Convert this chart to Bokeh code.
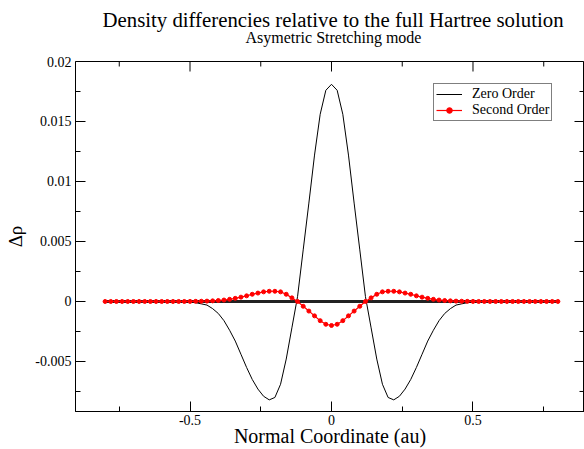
import math
from bokeh.plotting import figure
from bokeh.models import (Range1d, FixedTicker, LinearAxis, Title, Legend, LegendItem)
from bokeh.embed import file_html
from bokeh.resources import INLINE

# ---------------- data ----------------
x_coord = [-0.80, -0.78, -0.76, -0.74, -0.72, -0.70, -0.68, -0.66, -0.64, -0.62,
           -0.60, -0.58, -0.56, -0.54, -0.52, -0.50, -0.48, -0.46, -0.44, -0.42,
           -0.40, -0.38, -0.36, -0.34, -0.32, -0.30, -0.28, -0.26, -0.24, -0.22,
           -0.20, -0.18, -0.16, -0.14, -0.12, -0.10, -0.08, -0.06, -0.04, -0.02,
           0.00,
           0.02, 0.04, 0.06, 0.08, 0.10, 0.12, 0.14, 0.16, 0.18, 0.20,
           0.22, 0.24, 0.26, 0.28, 0.30, 0.32, 0.34, 0.36, 0.38, 0.40,
           0.42, 0.44, 0.46, 0.48, 0.50, 0.52, 0.54, 0.56, 0.58, 0.60,
           0.62, 0.64, 0.66, 0.68, 0.70, 0.72, 0.74, 0.76, 0.78, 0.80]

zero_order = [0, 0, 0, 0, 0, 0, 0, 0, 0, 0,
              0, 0, 0, 0, -0.00002, -0.00004, -0.0001, -0.0002, -0.0003, -0.0006,
              -0.0010, -0.0016, -0.0024, -0.0033, -0.0044, -0.0055, -0.0065, -0.0073, -0.0079, -0.0082,
              -0.0080, -0.0069, -0.0048, -0.0022, 0.0004, 0.0043, 0.0082, 0.0122, 0.0156, 0.0176,
              0.0181,
              0.0176, 0.0156, 0.0122, 0.0082, 0.0043, 0.0004, -0.0022, -0.0048, -0.0069, -0.0080,
              -0.0082, -0.0079, -0.0073, -0.0065, -0.0055, -0.0044, -0.0033, -0.0024, -0.0016, -0.0010,
              -0.0006, -0.0003, -0.0002, -0.0001, -0.00004, -0.00002, 0, 0, 0, 0,
              0, 0, 0, 0, 0, 0, 0, 0, 0, 0]

second_order = [0, 0, 0, 0, 0, 0, 0, 0, 0, 0,
                0, 0, 0, 0, 0, 0.000005, 0.00001, 0.00002, 0.00003, 0.00005,
                0.00008, 0.00012, 0.00018, 0.00026, 0.00036, 0.00047, 0.0006, 0.0007, 0.0008, 0.00085,
                0.00085, 0.0008, 0.0006, 0.0003, 0.0000, -0.0004, -0.0008, -0.0012, -0.0016, -0.0019,
                -0.0020,
                -0.0019, -0.0016, -0.0012, -0.0008, -0.0004, 0.0000, 0.0003, 0.0006, 0.0008, 0.00085,
                0.00085, 0.0008, 0.0007, 0.0006, 0.00047, 0.00036, 0.00026, 0.00018, 0.00012, 0.00008,
                0.00005, 0.00003, 0.00002, 0.00001, 0.000005, 0, 0, 0, 0, 0,
                0, 0, 0, 0, 0, 0, 0, 0, 0, 0]

baseline = [0.0] * len(x_coord)

x_ticks = [-0.5, 0.0, 0.5]
x_tick_labels = ["-0.5", "0", "0.5"]
x_minor = [-0.75, -0.25, 0.25, 0.75]
y_ticks = [-0.005, 0.0, 0.005, 0.01, 0.015, 0.02]
y_tick_labels = ["-0.005", "0", "0.005", "0.01", "0.015", "0.02"]
y_minor = [-0.0075, -0.0025, 0.0025, 0.0075, 0.0125, 0.0175]

title_text = "Density differencies relative to the full Hartree solution"
subtitle_text = "Asymetric Stretching mode"
x_label = "Normal Coordinate (au)"
y_label = "Δρ"
series_names = ["Zero Order", "Second Order"]

FONT = "Liberation Serif"
X0, X1 = -0.9046, 0.894
Y0, Y1 = -0.00917, 0.02

# ---------------- figure ----------------
p = figure(width=584, height=449, output_backend="svg", toolbar_location=None,
           title=None,
           x_range=Range1d(X0, X1), y_range=Range1d(Y0, Y1),
           min_border_left=75, min_border_right=0, min_border_top=61,
           min_border_bottom=38)
p.background_fill_color = "white"
p.border_fill_color = "white"
p.outline_line_color = "black"
p.outline_line_width = 1
p.grid.visible = False


def style_axis(ax):
    ax.axis_line_color = "black"
    ax.axis_line_width = 1
    ax.major_tick_line_color = "black"
    ax.minor_tick_line_color = "black"
    ax.major_tick_in = 10
    ax.major_tick_out = 0
    ax.minor_tick_in = 5
    ax.minor_tick_out = 0
    ax.major_label_text_font = FONT
    ax.major_label_text_font_size = "14px"
    ax.major_label_text_color = "black"
    ax.axis_label_text_font = FONT
    ax.axis_label_text_font_style = "normal"
    ax.axis_label_text_color = "black"


xa = p.xaxis[0]
xa.ticker = FixedTicker(ticks=x_ticks, minor_ticks=x_minor)
xa.major_label_overrides = {v: s for v, s in zip(x_ticks, x_tick_labels)}
style_axis(xa)
xa.axis_label = x_label
xa.axis_label_text_font_size = "20px"
xa.major_label_standoff = 3
xa.axis_label_standoff = -3

ya = p.yaxis[0]
ya.ticker = FixedTicker(ticks=y_ticks, minor_ticks=y_minor)
ya.major_label_overrides = {v: s for v, s in zip(y_ticks, y_tick_labels)}
style_axis(ya)
ya.axis_label = y_label
ya.axis_label_text_font_size = "19px"
ya.major_label_standoff = 4
ya.axis_label_standoff = 6

# inward ticks on the top and right frame edges (clipped to the frame)
p.scatter(x_ticks, [Y1] * len(x_ticks), marker="dash", size=20, angle=math.pi / 2,
          line_color="black", line_width=1)
p.scatter(x_minor, [Y1] * len(x_minor), marker="dash", size=10, angle=math.pi / 2,
          line_color="black", line_width=1)
p.scatter([X1] * len(y_ticks), y_ticks, marker="dash", size=20,
          line_color="black", line_width=1)
p.scatter([X1] * len(y_minor), y_minor, marker="dash", size=10,
          line_color="black", line_width=1)

# invisible spacer axis (one white outward tick, labels not drawn):
# leaves the gap between the frame and the subtitle
spacer = LinearAxis(ticker=FixedTicker(ticks=[X0], minor_ticks=[]),
                    major_tick_out=16, major_tick_in=0, minor_tick_out=0,
                    minor_tick_in=0, axis_line_color=None,
                    major_tick_line_color="white", minor_tick_line_color=None,
                    major_label_text_alpha=0, major_label_standoff=0)
p.add_layout(spacer, "above")

sub = Title(text=subtitle_text, align="left", offset=170, text_font=FONT,
            text_font_size="16px", text_font_style="normal", text_color="black",
            vertical_align="bottom", standoff=0)
p.add_layout(sub, "above")
main = Title(text=title_text, align="left", offset=27, text_font=FONT,
             text_font_size="20.8px", text_font_style="normal", text_color="black",
             vertical_align="bottom", standoff=-8)
p.add_layout(main, "above")

# ---------------- glyphs ----------------
p.line(x_coord, baseline, line_color="#222222", line_width=3)
zr = p.line(x_coord, zero_order, line_color="black", line_width=1)
sl = p.line(x_coord, second_order, line_color="red", line_width=1.2)
ss = p.scatter(x_coord, second_order, size=4, marker="circle",
               fill_color="red", line_color="red")

legend = Legend(items=[LegendItem(label=series_names[0], renderers=[zr]),
                       LegendItem(label=series_names[1], renderers=[sl, ss])],
                location=(358, 290))
legend.label_text_font = FONT
legend.label_text_font_size = "14px"
legend.label_text_color = "black"
legend.border_line_color = "black"
legend.border_line_width = 1
legend.background_fill_color = "white"
legend.background_fill_alpha = 1
legend.glyph_width = 26
legend.glyph_height = 14
legend.label_height = 14
legend.label_standoff = 10
legend.padding = 2
legend.spacing = 0
legend.margin = 0
p.add_layout(legend, "center")

open("out.html", "w").write(file_html(p, INLINE))
